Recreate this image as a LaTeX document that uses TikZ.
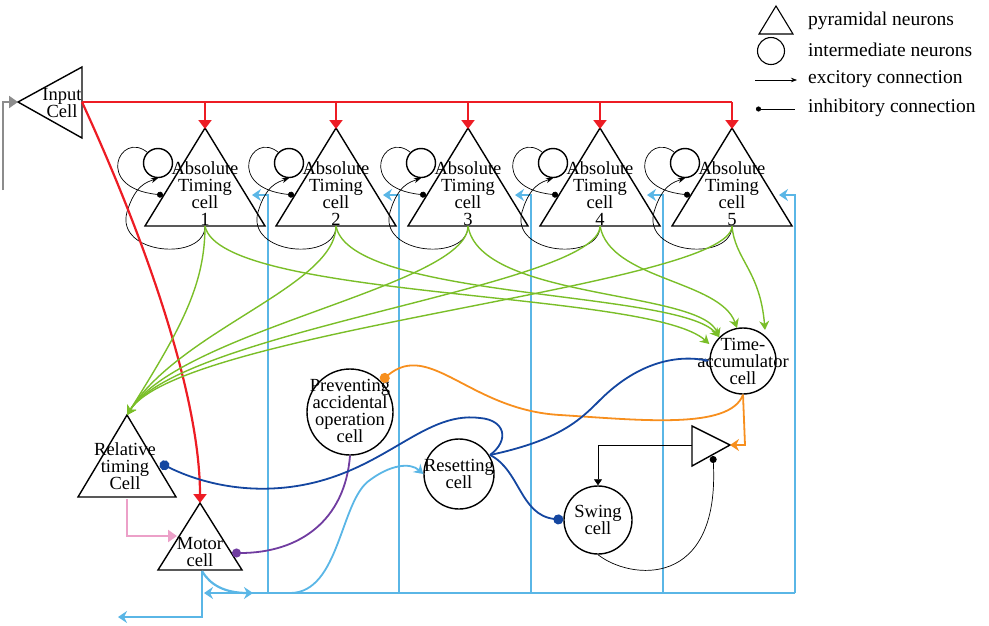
\documentclass[tikz,border=0pt]{standalone}
\usepackage{fontspec}
\setmainfont{Liberation Serif}
\usetikzlibrary{arrows.meta,calc}
\definecolor{cred}{RGB}{237,28,36}
\definecolor{cgreen}{RGB}{122,190,40}
\definecolor{cblue}{RGB}{90,182,230}
\definecolor{dblue}{RGB}{20,70,160}
\definecolor{corange}{RGB}{247,143,30}
\definecolor{cpurple}{RGB}{112,60,160}
\definecolor{cpink}{RGB}{236,160,200}
\definecolor{cgray}{RGB}{140,140,140}
\begin{document}
\begin{tikzpicture}[x=1pt,y=-1pt,
  txt/.style={align=center,font=\fontsize{18.5}{17}\selectfont,inner sep=0pt},
  lg/.style={anchor=west,inner sep=0pt,font=\fontsize{19.5}{19}\selectfont},
  tri/.style={draw=black,line width=1.4pt},
  cell/.style={draw=black,line width=1.4pt,circle,inner sep=0pt},
  red/.style={draw=cred,line width=2.2pt,-{Triangle[width=13pt,length=9pt]}},
  grn/.style={draw=cgreen,line width=1.4pt,-{Stealth[width=10pt,length=9pt]}},
  lb/.style={draw=cblue,line width=2.2pt},
  lbar/.style={lb,-{Stealth[width=12pt,length=9pt]}},
  thin/.style={draw=black,line width=0.7pt}]
\useasboundingbox (0,0) rectangle (989,625);
% legend
\draw[tri,line width=1.1pt] (759,34) -- (776,6) -- (793,34) -- cycle;
\node[lg] (l1) at (808,21) {pyramidal neurons};
\node[draw,circle,line width=1.1pt,minimum size=27pt,inner sep=0pt] (lc) at (771,51) {};
\node[lg] (l2) at (808,50) {intermediate neurons};
\coordinate (la1) at (755,80); \coordinate (la2) at (797,80);
\draw[thin,-{Stealth[length=6pt]}] (la1) -- (la2);
\node[lg] (l3) at (808,79) {excitory connection};
\coordinate (ld1) at (756,109); \coordinate (ld2) at (795,109);
\draw[thin,{Circle[length=5pt]}-] (ld1) -- (ld2);
\node[lg] (l4) at (808,108) {inhibitory connection};
% input cell
\draw[tri] (18,102) -- (82,67) -- (82,138) -- cycle;
\node[txt] (in) at (62,103) {Input\\Cell};
\coordinate (inapex) at (18,102);
\coordinate (inout) at (82,102);
\coordinate (g0) at (3,190);
\draw[draw=cgray,line width=2.2pt,-{Triangle[width=12pt,length=9pt]}] (g0) |- (inapex);
% absolute timing cells
\foreach \i/\x in {1/205,2/336,3/468,4/600,5/732}{
  \coordinate (a\i) at (\x,128);
  \coordinate (b\i) at (\x,226);
  \draw[tri] (\x-60,226) -- (a\i) -- (\x+60,226) -- cycle;
  \node[txt] (at\i) at (\x,194) {Absolute\\Timing\\cell\\\i};
  \node[cell,minimum size=29pt] (s\i) at (\x-47,163) {};
  \coordinate (d\i) at (\x-42,195);
  \draw[thin,-{Stealth[length=7pt]}] (b\i) .. controls (\x,262) and (\x-90,255) .. (\x-78,212) .. controls (\x-70,185) and (\x-58,182) .. (s\i.south);
  \draw[thin,-{Circle[length=6pt]}] (s\i.north west) .. controls (\x-85,130) and (\x-112,188) .. (d\i);
  \coordinate (r\i) at (\x,102);
  \draw[red] (r\i) -- ([yshift=-1pt]a\i);
  \coordinate (f\i) at (\x+47,195);
  \coordinate (v\i) at (\x+63,195);
  \coordinate (w\i) at (\x+63,593);
  \draw[lbar] (w\i) -- (v\i) -- (f\i);
}
\draw[draw=cred,line width=2.2pt] (inout) -- (r5);
% bus
\coordinate (bus0) at (204,593);
\draw[lb,-{Stealth[width=12pt,length=9pt]}] (w5) -- (bus0);
% relative timing
\coordinate (ra) at (127,415);
\draw[tri] (78,497) -- (ra) -- (176,497) -- cycle;
\node[txt] (rt) at (125,466) {Relative\\timing\\Cell};
\coordinate (rb) at (127,499);
% motor
\coordinate (ma) at (200,503);
\draw[tri] (158,570) -- (ma) -- (242,570) -- cycle;
\node[txt] (mt) at (200,552) {Motor\\cell};
\coordinate (mb) at (202,571);
\coordinate (ml) at (177,536);
\coordinate (mr) at (232,553);
\draw[red] (inout) .. controls (150,250) and (200,400) .. (ma);
\draw[draw=cpink,line width=2.2pt,-{Triangle[width=12pt,length=9pt]}] (rb) |- (ml);
% motor outputs
\coordinate (mo) at (118,617);
\draw[lbar] (mb) |- (mo);
\coordinate (mbus) at (253,593);
\draw[lbar] (mb) .. controls (210,585) and (225,593) .. (mbus);
% circles
\node[cell,minimum size=86pt] (pa) at (350,412) {};
\node[txt] (pat) at (350,411) {Preventing\\accidental\\operation\\cell};
\node[cell,minimum size=70pt] (rs) at (459,474) {};
\node[txt] (rst) at (459,474) {Resetting\\cell};
\node[cell,minimum size=66pt] (ta) at (743,361) {};
\node[txt] (tat) at (743,361) {Time-\\accumulator\\cell};
\node[cell,minimum size=68pt] (sw) at (598,520) {};
\node[txt] (swt) at (598,520) {Swing\\cell};
% small triangle
\coordinate (sa) at (730,445);
\draw[tri] (692,426) -- (sa) -- (692,466) -- cycle;
\coordinate (sl) at (692,445);
\coordinate (sd) at (713,456);
% green
\foreach \i in {1,...,5}{
  \draw[grn] (b\i) .. controls ($(b\i)+(0,60)$) and (180,330) .. (ra);
}
\draw[grn] (b1) .. controls (220,300) and (650,290) .. (ta.west |- 0,344);
\draw[grn] (b2) .. controls (350,300) and (680,290) .. (ta.north west);
\draw[grn] (b3) .. controls (480,300) and (700,290) .. (ta.north west);
\draw[grn] (b4) .. controls (610,280) and (720,280) .. (737,328);
\draw[grn] (b5) .. controls (735,260) and (760,270) .. (765,330);
% blue to resetting
\draw[draw=cblue,line width=1.8pt,-{Stealth[width=11pt,length=9pt]}] (290,593) .. controls (340,593) and (340,500) .. (370,480) .. controls (390,465) and (410,462) .. (rs.west);
% purple
\draw[draw=cpurple,line width=1.8pt,-{Circle[length=9pt]}] (pa.south) .. controls (345,520) and (300,553) .. (mr);
% orange
\draw[draw=corange,line width=1.8pt,-{Circle[length=10pt]}] (ta.south) .. controls (730,430) and (640,420) .. (560,415) .. controls (470,410) and (430,340) .. (pa.north east);
\coordinate (ob) at (745,445);
\draw[draw=corange,line width=1.8pt,-{Stealth[width=12pt,length=9pt]}] (ta.south) -- (ob) -- (sa);
% dark blue
\coordinate (rsr) at (490,455);
\draw[draw=dblue,line width=1.8pt,-{Circle[length=10pt]}] (rsr) .. controls (510,440) and (505,420) .. (480,418) .. controls (420,410) and (380,480) .. (280,488) .. controls (230,492) and (190,478) .. (160,463);
\draw[draw=dblue,line width=1.8pt,-{Stealth[length=5pt]}] (rsr) .. controls (560,440) and (580,420) .. (600,400) .. controls (640,360) and (680,355) .. (ta.west);
\draw[draw=dblue,line width=1.8pt,-{Circle[length=10pt]}] (rsr) .. controls (520,470) and (520,515) .. (sw.west);
% black swing loop
\coordinate (sk) at (598,445);
\draw[thin,-{Triangle[width=8pt,length=6pt]}] (sl) -- (sk) -- (sw.north);
\draw[thin,-{Circle[length=7pt]}] (sw.south) .. controls (630,580) and (720,590) .. (sd);
\end{tikzpicture}
\end{document}
